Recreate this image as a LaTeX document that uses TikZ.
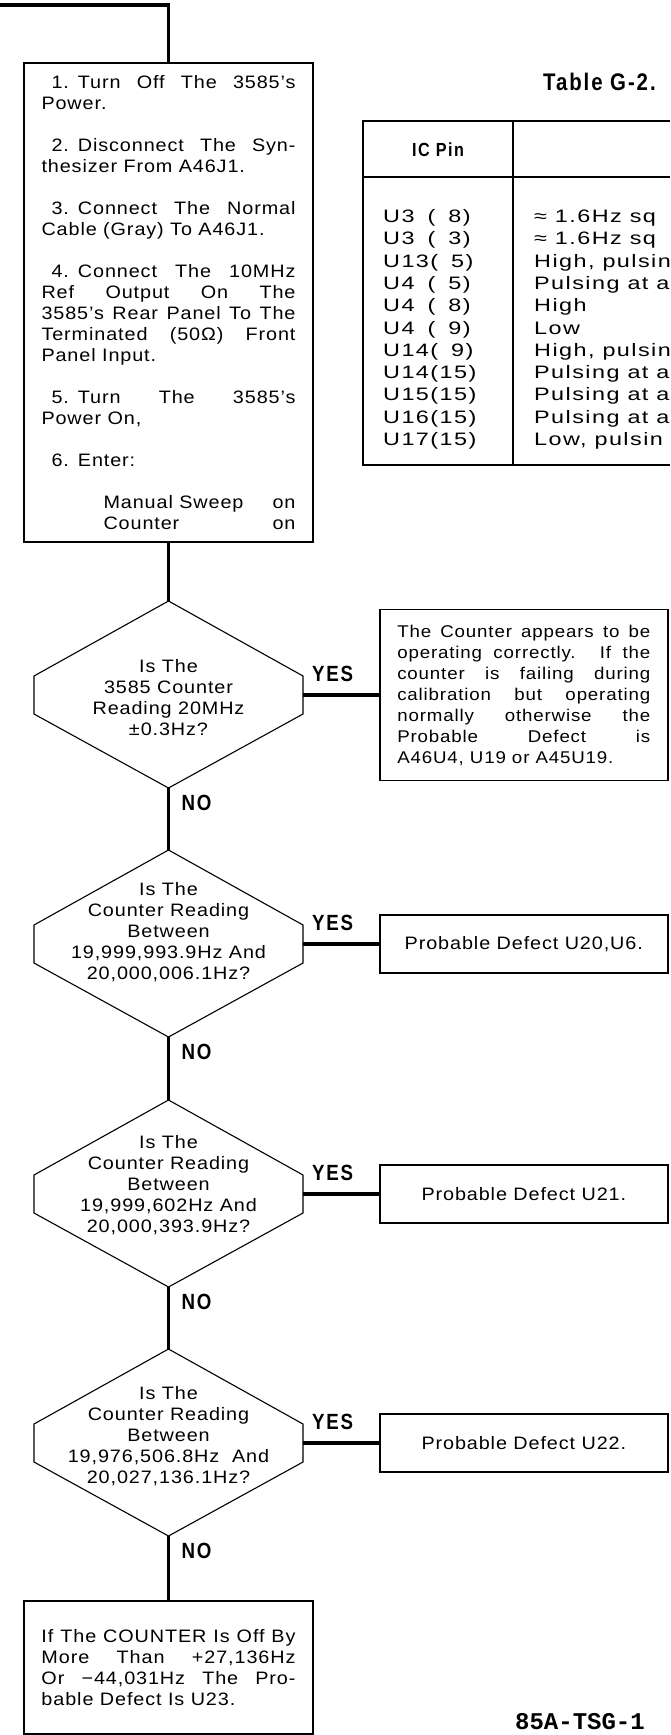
\documentclass[tikz,border=0pt]{standalone}
\usepackage{fontspec}
\usetikzlibrary{positioning}
\newfontfamily\manfont[FakeStretch=1.1,LetterSpace=5]{Liberation Sans}
\newfontfamily\cellfont[FakeStretch=1.3,LetterSpace=8]{Liberation Sans}
\newfontfamily\headfont[FakeStretch=0.85,LetterSpace=8]{Liberation Sans}
\newfontfamily\tagfont{Liberation Mono}
\newcommand\flowtext{\manfont\fontsize{18}{21}\selectfont}
\newcommand\ansrtext{\manfont\fontsize{17}{21}\selectfont}
\newcommand\celltext{\cellfont\fontsize{18}{21}\selectfont}
\newcommand\headtext{\headfont\bfseries\fontsize{22}{22}\selectfont}

\begin{document}
\begin{tikzpicture}[x=1pt,y=-1pt]
	%---------------- Styles ----------------
	\tikzset{
		link/.style={line width=3.5pt},                      % flow connectors
		frame/.style={draw, line width=1.6pt},               % box outlines
		qline/.style={line width=1.1pt, line join=miter},    % decision outline
		stepbox/.style={frame, text width=254pt, inner xsep=17.5pt, inner ysep=0pt,
			align=justify, font=\flowtext},
		ansbox/.style={frame, minimum width=288pt, minimum height=58pt,
			inner xsep=17.5pt, align=center, font=\flowtext},
		qtext/.style={align=center, inner sep=0pt, font=\flowtext},
		yeslbl/.style={inner sep=0pt, font=\headtext},
		tabline/.style={line width=1.6pt},
		cell/.style={anchor=west, inner sep=0pt, text height=13pt, text depth=4pt, font=\celltext},
		decision/.pic={
			\draw[qline] (0,-94) -- (-134.5,-19) -- (-134.5,19) -- (0,93)
			-- (134.5,19) -- (134.5,-19) -- cycle;
			\coordinate (-top) at (0,-94);
			\coordinate (-bot) at (0,93);
			\coordinate (-east) at (134.5,0);
		},
	}
	
	%---------------- Page ----------------
	\useasboundingbox (0,0) rectangle (670,1735);
	\clip (0,0) rectangle (670,1735);
	\fill[white] (0,0) rectangle (670,1735);
	
	%---------------- Flow column ----------------
	\def\xc{168.5}
	\def\ya{695}   % 20MHz check
	\def\yb{944}   % 19,999,993.9 .. 20,000,006.1
	\def\yc{1194}  % 19,999,602 .. 20,000,393.9
	\def\yd{1443}  % 19,976,506.8 .. 20,027,136.1
	
	\coordinate (entry) at (0,5);
	
	\node[stepbox, anchor=north, minimum height=479pt] (steps) at (\xc,62) {%
		\hspace*{10pt}1.\enspace Turn Off The 3585’s\linebreak Power.\\[21pt]
		\hspace*{10pt}2.\enspace Disconnect The Syn-\linebreak thesizer From A46J1.\\[21pt]
		\hspace*{10pt}3.\enspace Connect The Normal\linebreak Cable (Gray) To A46J1.\\[21pt]
		\hspace*{10pt}4.\enspace Connect The 10MHz\linebreak Ref Output On The\linebreak
		3585’s Rear Panel To The\linebreak Terminated (50Ω) Front\linebreak Panel Input.\\[21pt]
		\hspace*{10pt}5.\enspace Turn The 3585’s\linebreak Power On,\\[21pt]
		\hspace*{10pt}6.\enspace Enter:\\[21pt]
		\hspace*{62pt}Manual Sweep\hfill on\\
		\hspace*{62pt}Counter\hfill on};
	
	%---------------- Decisions ----------------
	\pic (d1) at (\xc,\ya) {decision};
	\pic (d2) at (\xc,\yb) {decision};
	\pic (d3) at (\xc,\yc) {decision};
	\pic (d4) at (\xc,\yd) {decision};
	
	\node[qtext] (q1) at (\xc,\ya+3) {Is The\\3585 Counter\\Reading 20MHz\\±0.3Hz?};
	\node[qtext] (q2) at (\xc,\yb-12) {Is The\\Counter Reading\\Between\\19,999,993.9Hz And\\20,000,006.1Hz?};
	\node[qtext] (q3) at (\xc,\yc-9) {Is The\\Counter Reading\\Between\\19,999,602Hz And\\20,000,393.9Hz?};
	\node[qtext] (q4) at (\xc,\yd-7) {Is The\\Counter Reading\\Between\\19,976,506.8Hz\ \ And\\20,027,136.1Hz?};
	
	%---------------- YES / NO labels ----------------
	\node[yeslbl, above right=13pt and 9pt of d1-east] (yes1) {YES};
	\node[yeslbl, above right=13pt and 9pt of d2-east] (yes2) {YES};
	\node[yeslbl, above right=13pt and 9pt of d3-east] (yes3) {YES};
	\node[yeslbl, above right=13pt and 9pt of d4-east] (yes4) {YES};
	
	\node[yeslbl, below right=7pt and 13pt of d1-bot] (no1) {NO};
	\node[yeslbl, below right=7pt and 13pt of d2-bot] (no2) {NO};
	\node[yeslbl, below right=7pt and 13pt of d3-bot] (no3) {NO};
	\node[yeslbl, below right=7pt and 13pt of d4-bot] (no4) {NO};
	
	%---------------- Results ----------------
	\node[ansbox, text width=253pt, minimum height=171pt, align=justify, font=\ansrtext,
		right=76pt of d1-east] (ans1) {The Counter appears to be\linebreak
		operating correctly. If the\linebreak counter is failing during\linebreak
		calibration but operating\linebreak normally otherwise the\linebreak
		Probable Defect is\linebreak A46U4, U19 or A45U19.};
	\node[ansbox, right=76pt of d2-east] (ans2) {Probable Defect U20,U6.};
	\node[ansbox, right=76pt of d3-east] (ans3) {Probable Defect U21.};
	\node[ansbox, right=76pt of d4-east] (ans4) {Probable Defect U22.};
	
	\node[stepbox, anchor=north, minimum height=133pt] (last) at (\xc,1600) {%
		If The COUNTER Is Off By\linebreak More Than +27,136Hz\linebreak
		Or −44,031Hz The Pro-\linebreak bable Defect Is U23.\par\vspace*{14pt}};
	
	%---------------- Connectors ----------------
	\draw[link] (entry) -| (steps.north);
	\draw[link] (steps) -- (d1-top);
	\draw[link] (d1-bot) -- (d2-top);
	\draw[link] (d2-bot) -- (d3-top);
	\draw[link] (d3-bot) -- (d4-top);
	\draw[link] (d4-bot) -- (last);
	
	\draw[link] (d1-east) -- (ans1);
	\draw[link] (d2-east) -- (ans2);
	\draw[link] (d3-east) -- (ans3);
	\draw[link] (d4-east) -- (ans4);
	
	%---------------- Table G-2 (cut at right edge) ----------------
	\node[inner sep=0pt, anchor=west, font=\headfont\bfseries\fontsize{24}{24}\selectfont]
		(title) at (543,82) {Table G-2.};
	\draw[tabline] (670,121) -- (363,121) -- (363,465) -- (670,465);
	\draw[tabline] (363,177) -- (670,177);
	\draw[tabline] (513,121) -- (513,465);
	\node[inner sep=0pt, font=\headfont\bfseries\fontsize{19}{19}\selectfont]
		(pinhead) at (438,150) {IC Pin};
	
	\node[cell] (pin1)  at (383,218)   {U3\phantom{1}(\phantom{1}8)};
	\node[cell] (pin2)  at (383,240.3) {U3\phantom{1}(\phantom{1}3)};
	\node[cell] (pin3)  at (383,262.6) {U13(\phantom{1}5)};
	\node[cell] (pin4)  at (383,284.9) {U4\phantom{1}(\phantom{1}5)};
	\node[cell] (pin5)  at (383,307.2) {U4\phantom{1}(\phantom{1}8)};
	\node[cell] (pin6)  at (383,329.5) {U4\phantom{1}(\phantom{1}9)};
	\node[cell] (pin7)  at (383,351.8) {U14(\phantom{1}9)};
	\node[cell] (pin8)  at (383,374.1) {U14(15)};
	\node[cell] (pin9)  at (383,396.4) {U15(15)};
	\node[cell] (pin10) at (383,418.7) {U16(15)};
	\node[cell] (pin11) at (383,441)   {U17(15)};
	
	\node[cell] (desc1)  at (534,218)   {≈ 1.6Hz sq};
	\node[cell] (desc2)  at (534,240.3) {≈ 1.6Hz sq};
	\node[cell] (desc3)  at (534,262.6) {High, pulsin};
	\node[cell] (desc4)  at (534,284.9) {Pulsing at a};
	\node[cell] (desc5)  at (534,307.2) {High};
	\node[cell] (desc6)  at (534,329.5) {Low};
	\node[cell] (desc7)  at (534,351.8) {High, pulsin};
	\node[cell] (desc8)  at (534,374.1) {Pulsing at a};
	\node[cell] (desc9)  at (534,396.4) {Pulsing at a};
	\node[cell] (desc10) at (534,418.7) {Pulsing at a};
	\node[cell] (desc11) at (534,441)   {Low, pulsin};
	
	%---------------- Figure tag ----------------
	\node[inner sep=0pt, anchor=east, font=\tagfont\bfseries\fontsize{24}{24}\selectfont]
		(tag) at (645,1722) {85A-TSG-1};
\end{tikzpicture}
\end{document}
